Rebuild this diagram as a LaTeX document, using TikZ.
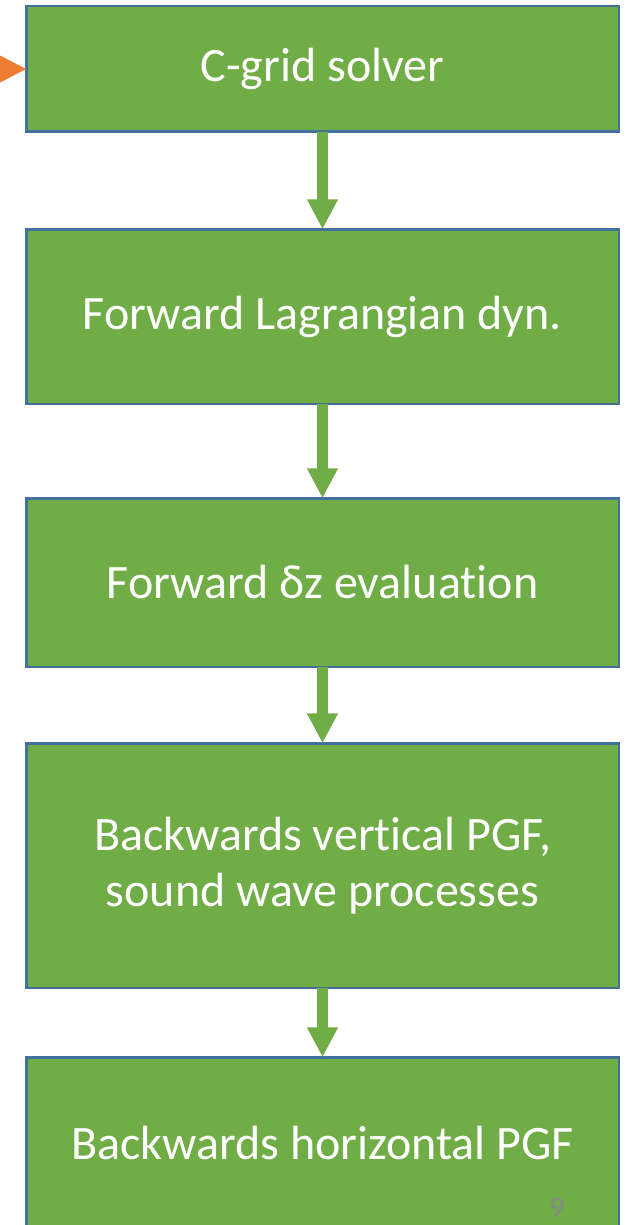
\documentclass[tikz,border=0pt]{standalone}
\usepackage{fontspec}
\setmainfont{Carlito}[Ligatures=NoCommon]
\usetikzlibrary{arrows.meta}
\definecolor{boxgreen}{HTML}{70AD47}
\definecolor{boxblue}{HTML}{41719C}
\definecolor{arrorange}{HTML}{ED7D31}
\definecolor{pagegray}{HTML}{888888}
\tikzset{
  stepbox/.style={draw=boxblue, line width=2.5pt, fill=boxgreen, rectangle,
    minimum width=592.5pt, inner sep=0pt, outer sep=0pt, text=white,
    align=center, font=\fontsize{48}{56}\selectfont},
  flow/.style={draw=boxgreen, line width=11pt,
    -{Triangle[width=29pt,length=30pt]}},
}
\begin{document}
\begin{tikzpicture}[x=1pt,y=-1pt]
\path[use as bounding box, clip] (0,0) rectangle (633,1225);
\node[stepbox, minimum height=125.5pt] (c1) at (322.5,69) {C-grid solver};
\node[stepbox, minimum height=174.5pt] (c2) at (322.5,316.5) {Forward Lagrangian dyn.};
\node[stepbox, minimum height=168.5pt] (c3) at (322.5,582.5) {Forward δz evaluation};
\node[stepbox, minimum height=244.5pt] (c4) at (322.5,865.5) {Backwards vertical PGF,\\sound wave processes};
\node[stepbox, minimum height=171.5pt] (c5) at (322.5,1143) {Backwards horizontal PGF};
\draw[flow] (c1.south) -- (c2.north);
\draw[flow] (c2.south) -- (c3.north);
\draw[flow] (c3.south) -- (c4.north);
\draw[flow] (c4.south) -- (c5.north);
\coordinate (src) at (-60,69);
\draw[draw=arrorange, line width=3pt, -{Triangle[width=30pt,length=30pt]}] (src) -- (c1.west);
\node[text=pagegray, font=\fontsize{30}{34}\selectfont, inner sep=0pt] (pg) at (557,1208) {9};
\end{tikzpicture}
\end{document}
